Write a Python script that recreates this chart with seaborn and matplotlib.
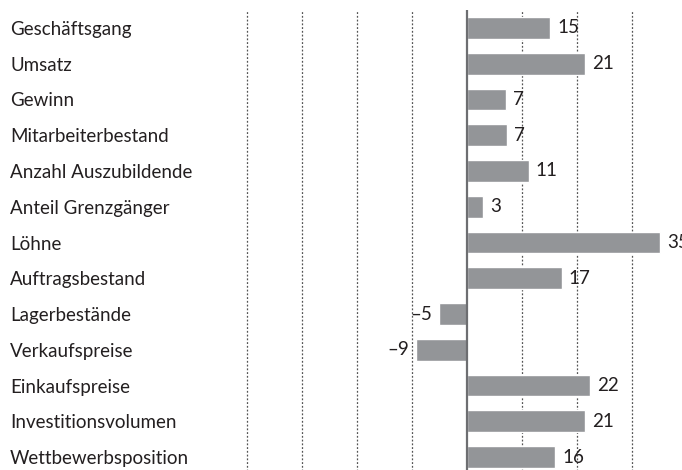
import numpy as np
import matplotlib
matplotlib.use('Agg')
import matplotlib.pyplot as plt
import seaborn as sns
import pandas as pd

categories = ['Geschäftsgang', 'Umsatz', 'Gewinn', 'Mitarbeiterbestand',
              'Anzahl Auszubildende', 'Anteil Grenzgänger', 'Löhne',
              'Auftragsbestand', 'Lagerbestände', 'Verkaufspreise',
              'Einkaufspreise', 'Investitionsvolumen', 'Wettbewerbsposition']
values = [15.1, 21.4, 7.1, 7.2, 11.2, 2.9, 35.1, 17.2, -5.1, -9.3, 22.4, 21.4, 16.0]
grid_ticks = [-40, -30, -20, -10, 10, 20, 30]

bar_color = '#939598'
text_color = '#231f20'


def main():
    sns.set_theme(style='white')
    plt.rcParams['font.family'] = ['Lato', 'DejaVu Sans']
    df = pd.DataFrame({'cat': categories, 'val': values})

    W, H = 682, 470
    fig = plt.figure(figsize=(W / 100, H / 100), dpi=100)
    left, right, top, bottom = 236, 676, 10, -5
    ax = fig.add_axes([left / W, bottom / H, (right - left) / W, (top_px := H - top) / H - bottom / H])

    sns.barplot(data=df, x='val', y='cat', orient='h', color=bar_color,
                width=0.61, saturation=1, ax=ax)
    ax.set_xlim(-42, 38)
    ax.set_ylim(len(categories) - 0.5, -0.5)

    for t in grid_ticks:
        ax.axvline(t, color='#555555', lw=0.9, ls=(0, (1.5, 1.5)), zorder=0)
    ax.axvline(0, color='#6d6e71', lw=1.6, zorder=3)

    for s in ax.spines.values():
        s.set_visible(False)
    ax.set_xticks([])
    ax.set_xlabel('')
    ax.set_ylabel('')
    pad_pt = (left - 10) / 100 * 72
    ax.tick_params(axis='y', length=0, pad=pad_pt, labelsize=13.5, labelcolor=text_color)
    for lab in ax.get_yticklabels():
        lab.set_horizontalalignment('left')

    labels = [f'{v:.0f}'.replace('-', '\u2013') for v in values]
    ax.bar_label(ax.containers[0], labels=labels, padding=5, fontsize=13.5,
                 color=text_color, clip_on=False)

    fig.savefig('out.png', dpi=100)


if __name__ == '__main__':
    main()
